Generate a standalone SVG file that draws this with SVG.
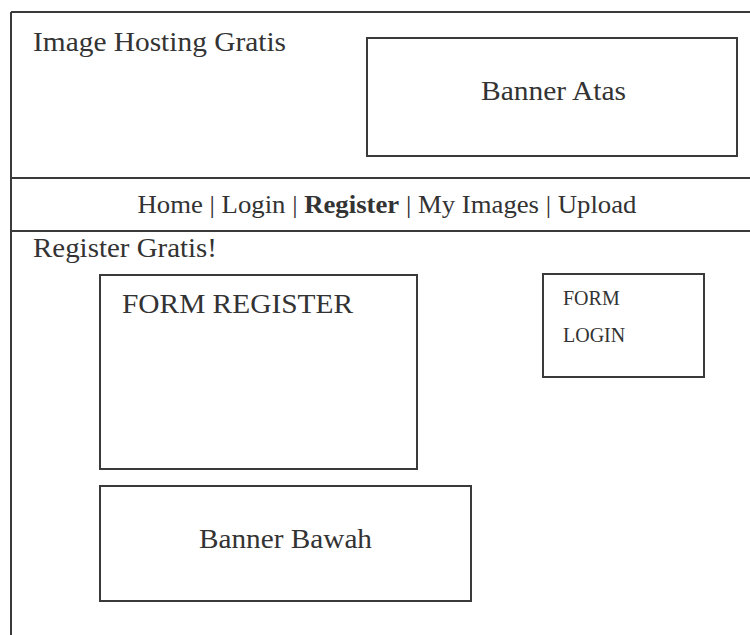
<svg xmlns="http://www.w3.org/2000/svg" width="750" height="635" viewBox="0 0 750 635">
<style>
.ln{stroke:#3a3a3a;stroke-width:2;fill:none}
.bx{stroke:#3a3a3a;stroke-width:2;fill:#fff}
.t{font-family:"Liberation Serif","Times New Roman",serif;fill:#333}
</style>
<rect width="750" height="635" fill="#fff"/>
<g id="frame">
<line class="ln" x1="11" y1="12" x2="750" y2="12"/>
<line class="ln" x1="11" y1="12" x2="11" y2="635"/>
<line class="ln" x1="11" y1="178" x2="750" y2="178"/>
<line class="ln" x1="11" y1="231" x2="750" y2="231"/>
</g>
<g id="title">
<text class="t" x="33" y="51" font-size="28" textLength="253" lengthAdjust="spacingAndGlyphs">Image Hosting Gratis</text>
</g>
<g id="banner-atas">
<rect class="bx" x="367" y="38" width="370" height="118"/>
<text class="t" x="481" y="100" font-size="28" textLength="145" lengthAdjust="spacingAndGlyphs">Banner Atas</text>
</g>
<g id="nav">
<text class="t" x="387" y="213" font-size="25" text-anchor="middle" textLength="499" lengthAdjust="spacingAndGlyphs">Home | Login | <tspan font-weight="bold">Register</tspan> | My Images | Upload</text>
</g>
<g id="register-title">
<text class="t" x="33" y="257" font-size="27" textLength="184" lengthAdjust="spacingAndGlyphs">Register Gratis!</text>
</g>
<g id="form-register">
<rect class="bx" x="100" y="275" width="317" height="194"/>
<text class="t" x="122" y="313" font-size="27" textLength="231" lengthAdjust="spacingAndGlyphs">FORM REGISTER</text>
</g>
<g id="form-login">
<rect class="bx" x="543" y="274" width="161" height="103"/>
<text class="t" x="563" y="305" font-size="20">FORM</text>
<text class="t" x="563" y="342" font-size="20">LOGIN</text>
</g>
<g id="banner-bawah">
<rect class="bx" x="100" y="486" width="371" height="115"/>
<text class="t" x="199" y="548" font-size="28" textLength="173" lengthAdjust="spacingAndGlyphs">Banner Bawah</text>
</g>
</svg>
